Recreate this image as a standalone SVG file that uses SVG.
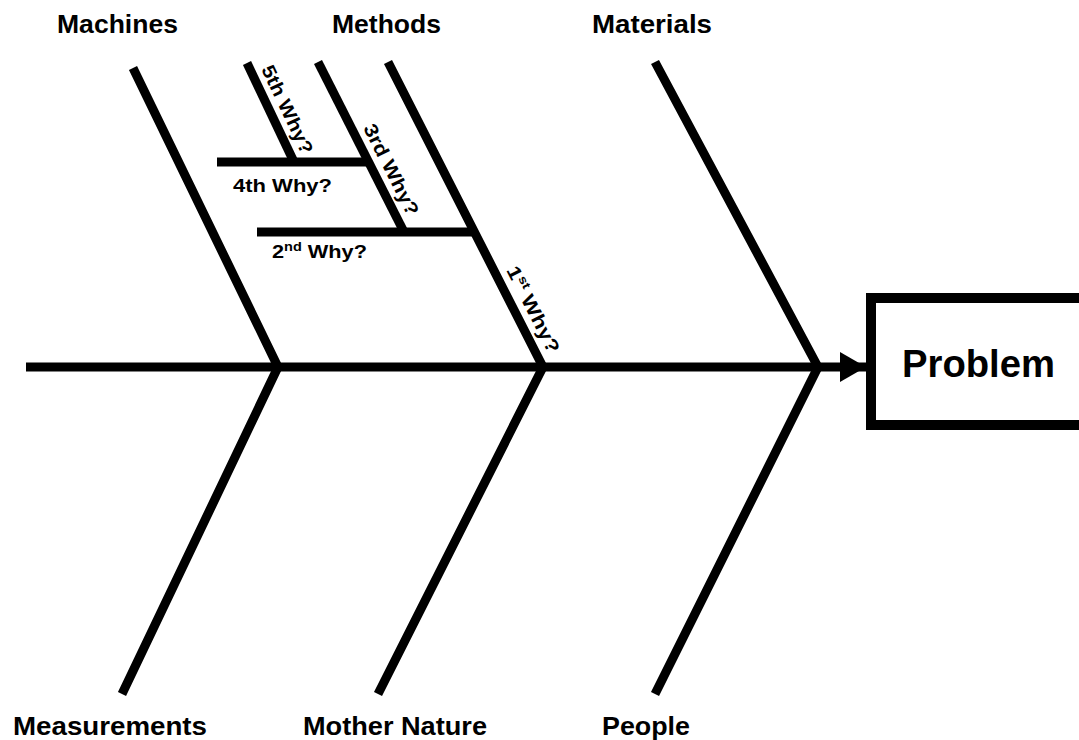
<svg xmlns="http://www.w3.org/2000/svg" width="1079" height="740" viewBox="0 0 1079 740">
<style>
.bone{fill:none;stroke:#000;stroke-width:9;stroke-linejoin:miter;stroke-linecap:butt}
.cat{font-family:"Liberation Sans",Arial,sans-serif;font-weight:bold;font-size:25px;fill:#000}
.why{font-family:"Liberation Sans",Arial,sans-serif;font-weight:bold;font-size:18px;fill:#000}
.rwhy{font-family:"Liberation Sans",Arial,sans-serif;font-weight:bold;font-size:19px;fill:#000}
.prob{font-family:"Liberation Sans",Arial,sans-serif;font-weight:bold;font-size:39px;fill:#000}
</style>
<defs>
<marker id="arrow" markerUnits="userSpaceOnUse" markerWidth="28" markerHeight="32" refX="26" refY="15" orient="auto">
<path d="M0,0 L26,15 L0,30 Z" fill="#000"/>
</marker>
</defs>
<rect width="1079" height="740" fill="#fff"/>
<g id="connectors">
<line class="bone" x1="26" y1="367" x2="866" y2="367" marker-end="url(#arrow)"/>
<polyline class="bone" points="133,68 278,367 122,694"/>
<polyline class="bone" points="388,62 543,367 378,694"/>
<polyline class="bone" points="655,62 818,367 655,694"/>
<line class="bone" x1="318" y1="62" x2="404" y2="232"/>
<line class="bone" x1="257" y1="232" x2="475" y2="232"/>
<line class="bone" x1="247" y1="63" x2="294" y2="162"/>
<line class="bone" x1="217" y1="162" x2="369" y2="162"/>
</g>
<g id="problem">
<rect x="871" y="298" width="230" height="127" fill="#fff" stroke="#000" stroke-width="10"/>
<text class="prob" x="902" y="377" textLength="153" lengthAdjust="spacingAndGlyphs">Problem</text>
</g>
<g id="machines"><text class="cat" x="57" y="33" textLength="121" lengthAdjust="spacingAndGlyphs">Machines</text></g>
<g id="methods"><text class="cat" x="332" y="33" textLength="109" lengthAdjust="spacingAndGlyphs">Methods</text></g>
<g id="materials"><text class="cat" x="592" y="33" textLength="120" lengthAdjust="spacingAndGlyphs">Materials</text></g>
<g id="measurements"><text class="cat" x="13" y="735" textLength="194" lengthAdjust="spacingAndGlyphs">Measurements</text></g>
<g id="mother-nature"><text class="cat" x="303" y="735" textLength="184" lengthAdjust="spacingAndGlyphs">Mother Nature</text></g>
<g id="people"><text class="cat" x="602" y="735" textLength="88" lengthAdjust="spacingAndGlyphs">People</text></g>
<g id="why5"><text class="rwhy" transform="translate(261,69) rotate(64.6)" textLength="96" lengthAdjust="spacingAndGlyphs">5th Why?</text></g>
<g id="why4"><text class="why" x="233" y="192" textLength="99" lengthAdjust="spacingAndGlyphs">4th Why?</text></g>
<g id="why3"><text class="rwhy" transform="translate(363,128) rotate(63.2)" textLength="100" lengthAdjust="spacingAndGlyphs">3rd Why?</text></g>
<g id="why2"><text class="why" x="272" y="258" textLength="95" lengthAdjust="spacingAndGlyphs">2<tspan font-size="12" dy="-7">nd</tspan><tspan dy="7"> Why?</tspan></text></g>
<g id="why1"><text class="rwhy" transform="translate(506,270) rotate(63.1)" textLength="95" lengthAdjust="spacingAndGlyphs">1<tspan font-size="12" dy="-7">st</tspan><tspan dy="7"> Why?</tspan></text></g>
</svg>
